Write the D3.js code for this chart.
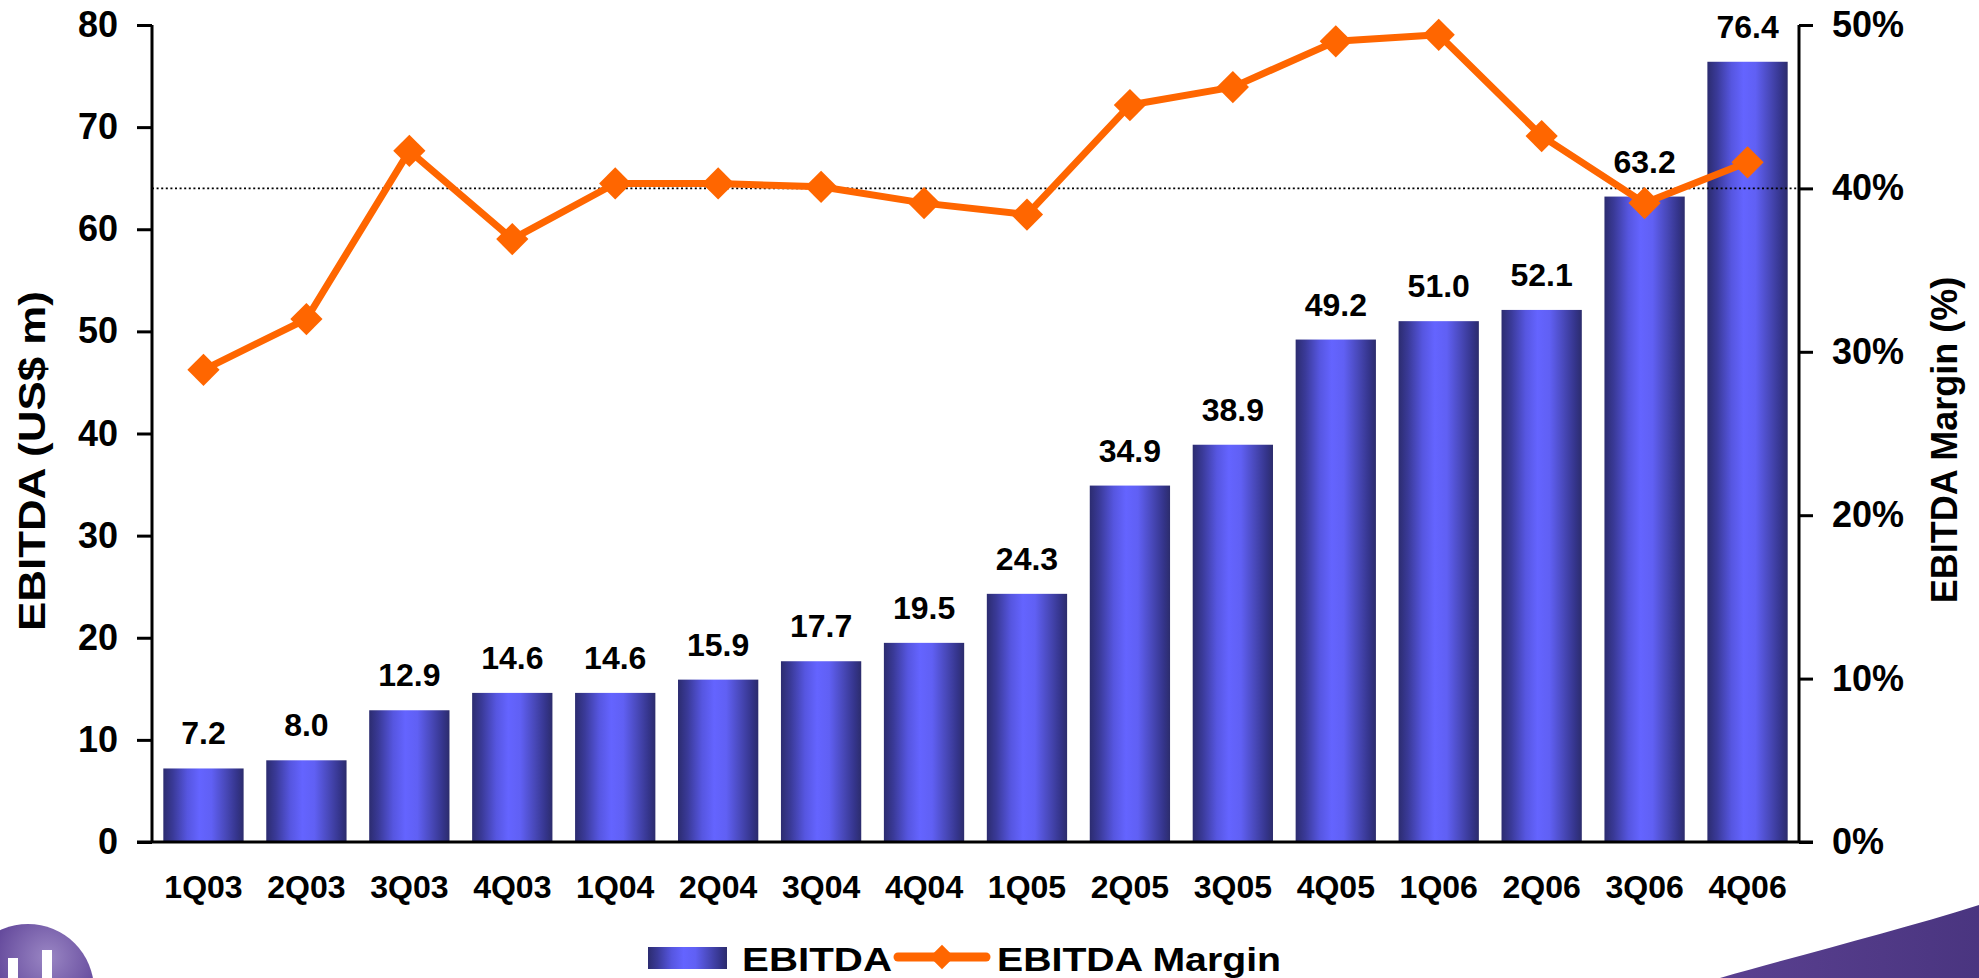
<!DOCTYPE html>
<html>
<head>
<meta charset="utf-8">
<script src="https://cdn.jsdelivr.net/npm/d3@7"></script>
<style>
  html, body { margin: 0; padding: 0; background: #fff; }
  svg { display: block; font-family: "Liberation Sans", Arial, sans-serif; font-weight: bold; }
</style>
</head>
<body>
<svg id="chart" width="1979" height="978"></svg>
<script>
// Quarterly EBITDA (US$ m) and EBITDA margin
const quarters = ["1Q03","2Q03","3Q03","4Q03","1Q04","2Q04","3Q04","4Q04",
                  "1Q05","2Q05","3Q05","4Q05","1Q06","2Q06","3Q06","4Q06"];
const ebitda = [7.2, 8.0, 12.9, 14.6, 14.6, 15.9, 17.7, 19.5,
                24.3, 34.9, 38.9, 49.2, 51.0, 52.1, 63.2, 76.4];
const margin = [0.289, 0.320, 0.423, 0.369, 0.403, 0.403, 0.401, 0.391,
                0.384, 0.451, 0.462, 0.490, 0.494, 0.432, 0.391, 0.416];
const leftTicks = [0, 10, 20, 30, 40, 50, 60, 70, 80];
const rightTicks = [0, 0.1, 0.2, 0.3, 0.4, 0.5];
const referenceMargin = 0.4;

const svg = d3.select("#chart");
const W = 1979, H = 978;
const plot = { left: 152, right: 1799, top: 25, bottom: 842 };

// background slide decorations
const defs = svg.append("defs");
const bgGrad = defs.append("radialGradient").attr("id", "logoGrad")
  .attr("cx", "65%").attr("cy", "25%").attr("r", "80%");
bgGrad.append("stop").attr("offset", "0%").attr("stop-color", "#9a86c4");
bgGrad.append("stop").attr("offset", "60%").attr("stop-color", "#5b3f95");
bgGrad.append("stop").attr("offset", "100%").attr("stop-color", "#47307d");

const swooshGrad = defs.append("linearGradient").attr("id", "swooshGrad")
  .attr("x1", "0%").attr("y1", "0%").attr("x2", "100%").attr("y2", "0%");
swooshGrad.append("stop").attr("offset", "0%").attr("stop-color", "#5a4090");
swooshGrad.append("stop").attr("offset", "100%").attr("stop-color", "#4a3580");

svg.append("path")
  .attr("d", `M1720,${H} C1800,955 1900,930 ${W},905 L${W},${H} Z`)
  .attr("fill", "url(#swooshGrad)");

svg.append("circle").attr("cx", 28).attr("cy", 990).attr("r", 66).attr("fill", "url(#logoGrad)");
svg.append("rect").attr("x", 8).attr("y", 958).attr("width", 10).attr("height", 20).attr("fill", "#fff");
svg.append("rect").attr("x", 42).attr("y", 950).attr("width", 10).attr("height", 28).attr("fill", "#fff");

// bar shading
function barGradient(id) {
  const g = defs.append("linearGradient").attr("id", id)
    .attr("x1", "0%").attr("y1", "0%").attr("x2", "100%").attr("y2", "0%");
  [[0, "#2c2c70"], [0.12, "#3a3a98"], [0.3, "#5656e0"], [0.45, "#6464ff"],
   [0.6, "#6060f4"], [0.78, "#4848b8"], [0.92, "#34348a"], [1, "#2c2c6c"]]
    .forEach(([o, c]) => g.append("stop").attr("offset", o).attr("stop-color", c));
}
barGradient("barGrad");

const x = d3.scaleBand().domain(quarters).range([plot.left, plot.right])
  .paddingInner(0.22).paddingOuter(0.11);
const y = d3.scaleLinear().domain([0, 80]).range([plot.bottom, plot.top]);
const y2 = d3.scaleLinear().domain([0, 0.5]).range([plot.bottom, plot.top]);

// bars
svg.append("g").selectAll("rect").data(ebitda).join("rect")
  .attr("x", (d, i) => x(quarters[i]))
  .attr("y", d => y(d))
  .attr("width", x.bandwidth())
  .attr("height", d => y(0) - y(d))
  .attr("fill", "url(#barGrad)");

// bar value labels
svg.append("g").selectAll("text").data(ebitda).join("text")
  .attr("x", (d, i) => x(quarters[i]) + x.bandwidth() / 2)
  .attr("y", d => y(d) - 24)
  .attr("text-anchor", "middle")
  .attr("font-size", 32)
  .attr("fill", "#000")
  .text(d => d.toFixed(1));

// 40% reference line
svg.append("line")
  .attr("x1", plot.left).attr("x2", plot.right)
  .attr("y1", y2(referenceMargin)).attr("y2", y2(referenceMargin))
  .attr("stroke", "#000").attr("stroke-width", 1.6)
  .attr("stroke-dasharray", "2,2.6");

// left axis
const leftAxis = svg.append("g").attr("transform", `translate(${plot.left},0)`)
  .call(d3.axisLeft(y).tickValues(leftTicks).tickSize(15).tickPadding(19).tickFormat(d3.format("d")));
leftAxis.select(".domain").attr("stroke", "#000").attr("stroke-width", 3)
  .attr("d", `M0,${plot.top}V${plot.bottom}`);
leftAxis.selectAll(".tick line").attr("stroke", "#000").attr("stroke-width", 3);
leftAxis.selectAll(".tick text").attr("font-size", 36).attr("font-weight", "bold")
  .attr("font-family", "Liberation Sans, Arial, sans-serif").attr("fill", "#000");

// right axis
const rightAxis = svg.append("g").attr("transform", `translate(${plot.right},0)`)
  .call(d3.axisRight(y2).tickValues(rightTicks).tickSize(14).tickPadding(19).tickFormat(d3.format(".0%")));
rightAxis.select(".domain").attr("stroke", "#000").attr("stroke-width", 3)
  .attr("d", `M0,${plot.top}V${plot.bottom}`);
rightAxis.selectAll(".tick line").attr("stroke", "#000").attr("stroke-width", 3);
rightAxis.selectAll(".tick text").attr("font-size", 36).attr("font-weight", "bold")
  .attr("font-family", "Liberation Sans, Arial, sans-serif").attr("fill", "#000");

// category axis
const bottomAxis = svg.append("g").attr("transform", `translate(0,${plot.bottom})`)
  .call(d3.axisBottom(x).tickSize(0).tickPadding(33));
bottomAxis.select(".domain").attr("stroke", "#000").attr("stroke-width", 3)
  .attr("d", `M${plot.left - 15},0H${plot.right + 14}`);
bottomAxis.selectAll(".tick text").attr("font-size", 32).attr("font-weight", "bold")
  .attr("font-family", "Liberation Sans, Arial, sans-serif").attr("fill", "#000");

// margin line
const orange = "#ff6600";
const line = d3.line().x((d, i) => x(quarters[i]) + x.bandwidth() / 2).y(d => y2(d));
svg.append("path").datum(margin)
  .attr("d", line).attr("fill", "none").attr("stroke", orange)
  .attr("stroke-width", 7).attr("stroke-linejoin", "round");

const diamond = d3.symbol().type(d3.symbolSquare).size(520);
svg.append("g").selectAll("path").data(margin).join("path")
  .attr("d", diamond)
  .attr("transform", (d, i) => `translate(${x(quarters[i]) + x.bandwidth() / 2},${y2(d)}) rotate(45)`)
  .attr("fill", orange);

// axis titles
svg.append("text")
  .attr("transform", `translate(45,461) rotate(-90)`)
  .attr("text-anchor", "middle").attr("font-size", 37).attr("fill", "#000")
  .attr("textLength", 340).attr("lengthAdjust", "spacingAndGlyphs")
  .text("EBITDA (US$ m)");
svg.append("text")
  .attr("transform", `translate(1957,440) rotate(-90)`)
  .attr("text-anchor", "middle").attr("font-size", 36).attr("fill", "#000")
  .text("EBITDA Margin (%)");

// legend
const legend = svg.append("g");
legend.append("rect").attr("x", 648).attr("y", 947).attr("width", 79).attr("height", 22)
  .attr("fill", "url(#barGrad)");
legend.append("text").attr("x", 742).attr("y", 971).attr("font-size", 33)
  .attr("textLength", 150).attr("lengthAdjust", "spacingAndGlyphs").text("EBITDA");
legend.append("line").attr("x1", 898).attr("x2", 986).attr("y1", 957).attr("y2", 957)
  .attr("stroke", orange).attr("stroke-width", 9).attr("stroke-linecap", "round");
legend.append("path").attr("d", d3.symbol().type(d3.symbolSquare).size(300))
  .attr("transform", "translate(942,957) rotate(45)").attr("fill", orange);
legend.append("text").attr("x", 997).attr("y", 971).attr("font-size", 33)
  .attr("textLength", 284).attr("lengthAdjust", "spacingAndGlyphs").text("EBITDA Margin");
</script>
</body>
</html>
